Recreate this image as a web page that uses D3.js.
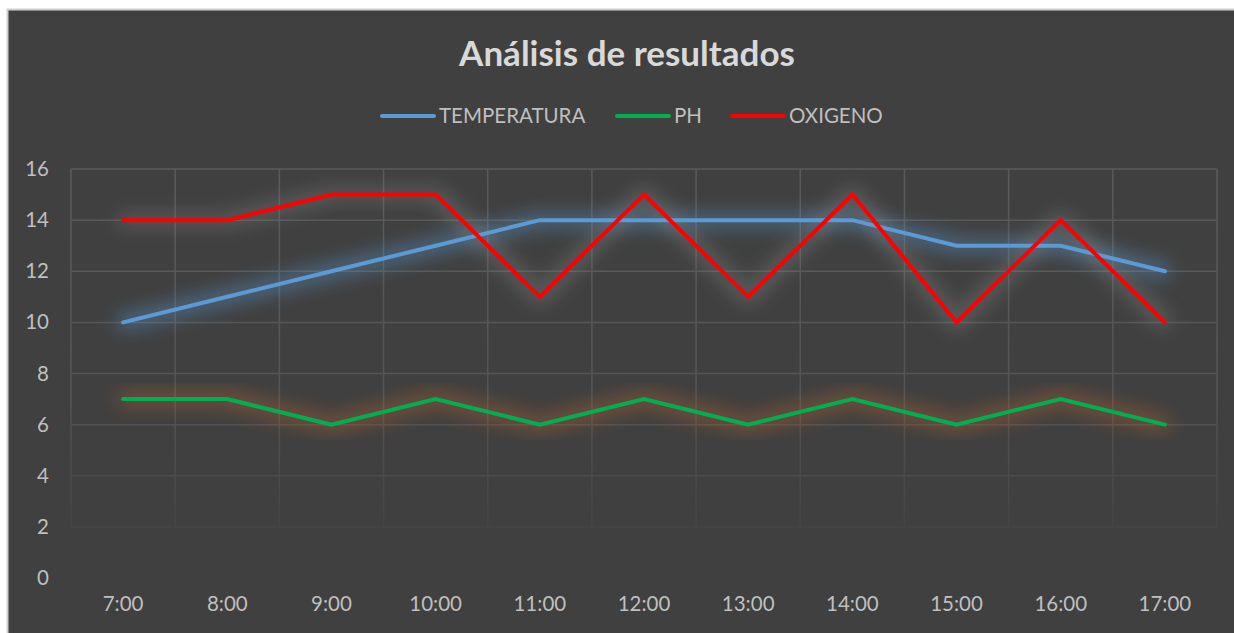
<!DOCTYPE html>
<html lang="es">
<head>
<meta charset="UTF-8">
<title>Análisis de resultados</title>
<style>
  html, body { margin: 0; padding: 0; background: #fff; overflow: hidden; }
  #chart { display: block; }
  .tick text { font-family: Lato, "Open Sans", sans-serif; fill: #bfbfbf; font-size: 20.5px; }
  .legend text { font-family: Lato, "Open Sans", sans-serif; fill: #bfbfbf; font-size: 20.5px; }
</style>
</head>
<body>
<svg id="chart"></svg>
<script src="https://d3js.org/d3.v7.min.js"></script>
<script>
// chart values
const hours = ["7:00", "8:00", "9:00", "10:00", "11:00", "12:00", "13:00", "14:00", "15:00", "16:00", "17:00"];
const temperatura = [10, 11, 12, 13, 14, 14, 14, 14, 13, 13, 12];
const ph = [7, 7, 6, 7, 6, 7, 6, 7, 6, 7, 6];
const oxigeno = [14, 14, 15, 15, 11, 15, 11, 15, 10, 14, 10];
const yTicks = [0, 2, 4, 6, 8, 10, 12, 14, 16];

const series = [
  { name: "TEMPERATURA", values: temperatura, color: "#5b9bd5", glow: "#5b9bd5", op: 0.45 },
  { name: "PH", values: ph, color: "#00b050", glow: "#b8622a", op: 0.45 },
  { name: "OXIGENO", values: oxigeno, color: "#ff0000", glow: "#8c8c8c", op: 0.35 }
];

const W = 1234, H = 633;
const plot = { left: 71, right: 1217, top: 169, bottom: 578 };

const svg = d3.select("#chart").attr("width", W).attr("height", H);
const defs = svg.append("defs");

// glow filters
series.forEach((s, i) => {
  const f = defs.append("filter").attr("id", "glow" + i)
    .attr("x", "-20%").attr("y", "-60%").attr("width", "140%").attr("height", "220%");
  f.append("feFlood").attr("flood-color", s.glow).attr("flood-opacity", s.op).attr("result", "c");
  f.append("feComposite").attr("in", "c").attr("in2", "SourceAlpha").attr("operator", "in").attr("result", "col");
  f.append("feMorphology").attr("in", "col").attr("operator", "dilate").attr("radius", 5).attr("result", "dil");
  f.append("feGaussianBlur").attr("in", "dil").attr("stdDeviation", 9);
});

// fading grid
const grad = defs.append("linearGradient").attr("id", "gridFade")
  .attr("gradientUnits", "userSpaceOnUse")
  .attr("x1", 0).attr("x2", 0).attr("y1", plot.top).attr("y2", plot.bottom);
grad.append("stop").attr("offset", "0%").attr("stop-color", "#5a5a5a");
grad.append("stop").attr("offset", "55%").attr("stop-color", "#555555");
grad.append("stop").attr("offset", "88%").attr("stop-color", "#444444");
grad.append("stop").attr("offset", "100%").attr("stop-color", "#404040");

// background panel with border
svg.append("rect").attr("x", 7.5).attr("y", 9.5).attr("width", W).attr("height", H)
  .attr("fill", "#404040").attr("stroke", "#d0d0d0").attr("stroke-width", 2);

const x = d3.scaleBand().domain(hours).range([plot.left, plot.right]).padding(0);
const y = d3.scaleLinear().domain([0, 16]).range([plot.bottom, plot.top]);

// grid
const grid = svg.append("g").attr("stroke", "url(#gridFade)").attr("stroke-width", 1.5);
grid.selectAll(".hg").data(yTicks.filter(d => d > 0)).enter().append("line")
  .attr("x1", plot.left).attr("x2", plot.right)
  .attr("y1", d => y(d)).attr("y2", d => y(d));
const vEdges = hours.map(h => x(h)).concat([plot.right]);
grid.selectAll(".vg").data(vEdges).enter().append("line")
  .attr("x1", d => d).attr("x2", d => d)
  .attr("y1", plot.top).attr("y2", y(2));

// axes
const yAxis = svg.append("g").attr("transform", `translate(${plot.left - 22},0)`)
  .call(d3.axisLeft(y).tickValues(yTicks).tickSize(0).tickPadding(0));
yAxis.select(".domain").remove();

const xAxis = svg.append("g").attr("transform", `translate(0,${plot.bottom + 18})`)
  .call(d3.axisBottom(x).tickSize(0).tickPadding(0));
xAxis.select(".domain").remove();
xAxis.selectAll("text").attr("dy", "0.71em");

// lines
const line = d3.line().x((d, i) => x(hours[i]) + x.bandwidth() / 2).y(d => y(d));
series.forEach((s, i) => {
  svg.append("path").datum(s.values).attr("d", line)
    .attr("fill", "none").attr("stroke", s.glow).attr("stroke-width", 4)
    .attr("filter", `url(#glow${i})`);
});
series.forEach(s => {
  svg.append("path").datum(s.values).attr("d", line)
    .attr("fill", "none").attr("stroke", s.color).attr("stroke-width", 4)
    .attr("stroke-linejoin", "miter").attr("stroke-linecap", "round");
});

// title
svg.append("text").attr("x", 627).attr("y", 66).attr("text-anchor", "middle")
  .attr("font-family", "Lato, 'Open Sans', sans-serif").attr("font-weight", "bold")
  .attr("font-size", 35).attr("fill", "#d9d9d9").text("Análisis de resultados");

// legend
const legendX = [381, 616, 731];
const legend = svg.append("g").attr("class", "legend");
series.forEach((s, i) => {
  const g = legend.append("g").attr("transform", `translate(${legendX[i]},116)`);
  g.append("line").attr("x1", 1).attr("x2", 53).attr("y1", 0).attr("y2", 0)
    .attr("stroke", s.color).attr("stroke-width", 4).attr("stroke-linecap", "round");
  g.append("text").attr("x", 58).attr("y", 0).attr("dy", "0.35em").text(s.name);
});
</script>
</body>
</html>
